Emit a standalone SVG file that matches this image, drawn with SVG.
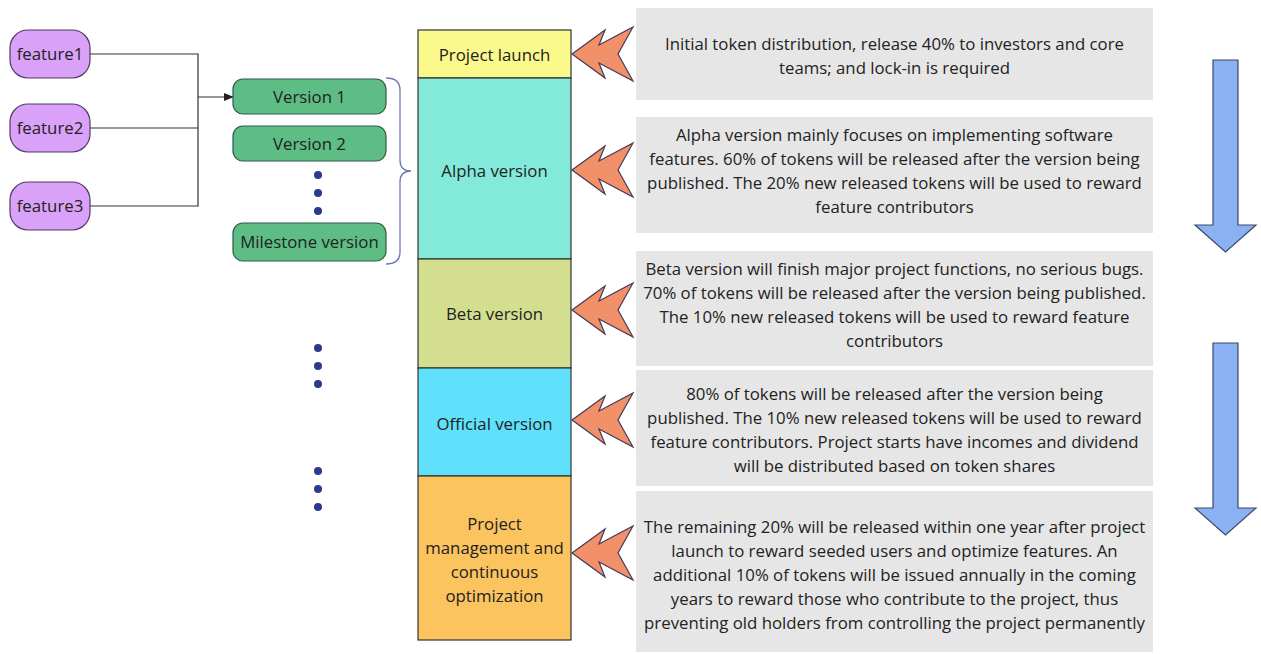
<svg xmlns="http://www.w3.org/2000/svg" width="1261" height="654" viewBox="0 0 1261 654">
<defs>
<style>
text{font-family:"Open Sans","Noto Sans","DejaVu Sans",sans-serif;font-size:16.8px;fill:#222;text-anchor:middle}
.feat{fill:#d9a1f8;stroke:#4e3d63;stroke-width:1.2}
.ver{fill:#5dbd84;stroke:#2f5a44;stroke-width:1.2}
.col{stroke:#333;stroke-width:1.2}
.box{fill:#e6e6e6}
.chev{fill:#f29069;stroke:#433a5a;stroke-width:1.2;stroke-linejoin:miter}
.blue{fill:#8ab1f2;stroke:#3d4868;stroke-width:1.2}
.dot{fill:#2a3a8e}
.conn{fill:none;stroke:#333;stroke-width:1.2}
</style>
<marker id="ah" markerWidth="10" markerHeight="8" refX="9" refY="4" orient="auto" markerUnits="userSpaceOnUse">
<path d="M0,0 L10,4 L0,8 z" fill="#222"/>
</marker>
<path id="chv" d="M0,0 L33,-24 L27,-9 L61,-27 L46,0 L61,27 L27,9 L33,24 Z"/>
</defs>
<rect width="1261" height="654" fill="#fff"/>

<g id="connectors">
<path class="conn" d="M90,54 H198 V206 H90 M90,128 H198"/>
<path class="conn" d="M198,97 H233" stroke-width="1.5" marker-end="url(#ah)"/>
<path d="M386,78 Q400,78 400,90 V160 Q400,171 411,171 Q400,171 400,182 V252 Q400,264 386,264" fill="none" stroke="#6f77b5" stroke-width="1.3"/>
</g>

<g id="feature1"><rect class="feat" x="10" y="30" width="80" height="48" rx="18"/><text x="50" y="60">feature1</text></g>
<g id="feature2"><rect class="feat" x="10" y="104" width="80" height="48" rx="18"/><text x="50" y="134">feature2</text></g>
<g id="feature3"><rect class="feat" x="10" y="182" width="80" height="48" rx="18"/><text x="50" y="212">feature3</text></g>

<g id="version1"><rect class="ver" x="233" y="79" width="153" height="35" rx="10"/><text x="309.5" y="103">Version 1</text></g>
<g id="version2"><rect class="ver" x="233" y="126" width="153" height="35" rx="10"/><text x="309.5" y="150">Version 2</text></g>
<g id="milestone"><rect class="ver" x="233" y="223" width="153" height="38" rx="10"/><text x="309.5" y="248">Milestone version</text></g>

<g id="dots">
<circle class="dot" cx="318" cy="175" r="4"/><circle class="dot" cx="318" cy="193" r="4"/><circle class="dot" cx="318" cy="211" r="4"/>
<circle class="dot" cx="318" cy="348" r="4"/><circle class="dot" cx="318" cy="366" r="4"/><circle class="dot" cx="318" cy="384" r="4"/>
<circle class="dot" cx="318" cy="471" r="4"/><circle class="dot" cx="318" cy="489" r="4"/><circle class="dot" cx="318" cy="507" r="4"/>
</g>

<g id="launch"><rect class="col" x="418" y="30" width="153" height="48" fill="#fbf98b"/><text x="494.5" y="61">Project launch</text></g>
<g id="alpha"><rect class="col" x="418" y="78" width="153" height="181" fill="#83eadb"/><text x="494.5" y="177">Alpha version</text></g>
<g id="beta"><rect class="col" x="418" y="259" width="153" height="109" fill="#d3df8e"/><text x="494.5" y="320">Beta version</text></g>
<g id="official"><rect class="col" x="418" y="368" width="153" height="108" fill="#5fe1fb"/><text x="494.5" y="430">Official version</text></g>
<g id="optimization"><rect class="col" x="418" y="476" width="153" height="164" fill="#fcc45e"/>
<text x="494.5" y="530">Project</text><text x="494.5" y="554">management and</text><text x="494.5" y="578">continuous</text><text x="494.5" y="602">optimization</text></g>

<g id="chevrons">
<use href="#chv" class="chev" transform="translate(572,54)"/>
<use href="#chv" class="chev" transform="translate(572,170)"/>
<use href="#chv" class="chev" transform="translate(572,310)"/>
<use href="#chv" class="chev" transform="translate(572,420)"/>
<use href="#chv" class="chev" transform="translate(572,553)"/>
</g>

<g id="desc1"><rect class="box" x="636" y="8" width="517" height="92"/>
<text x="894.5" y="50">Initial token distribution, release 40% to investors and core</text>
<text x="894.5" y="74">teams; and lock-in is required</text></g>
<g id="desc2"><rect class="box" x="636" y="117" width="517" height="116"/>
<text x="894.5" y="141">Alpha version mainly focuses on implementing software</text>
<text x="894.5" y="165">features. 60% of tokens will be released after the version being</text>
<text x="894.5" y="189">published. The 20% new released tokens will be used to reward</text>
<text x="894.5" y="213">feature contributors</text></g>
<g id="desc3"><rect class="box" x="636" y="251" width="517" height="115"/>
<text x="894.5" y="275">Beta version will finish major project functions, no serious bugs.</text>
<text x="894.5" y="299">70% of tokens will be released after the version being published.</text>
<text x="894.5" y="323">The 10% new released tokens will be used to reward feature</text>
<text x="894.5" y="347">contributors</text></g>
<g id="desc4"><rect class="box" x="636" y="370" width="517" height="116"/>
<text x="894.5" y="400">80% of tokens will be released after the version being</text>
<text x="894.5" y="424">published. The 10% new released tokens will be used to reward</text>
<text x="894.5" y="448">feature contributors. Project starts have incomes and dividend</text>
<text x="894.5" y="472">will be distributed based on token shares</text></g>
<g id="desc5"><rect class="box" x="636" y="491" width="517" height="161"/>
<text x="894.5" y="533">The remaining 20% will be released within one year after project</text>
<text x="894.5" y="557">launch to reward seeded users and optimize features. An</text>
<text x="894.5" y="581">additional 10% of tokens will be issued annually in the coming</text>
<text x="894.5" y="605">years to reward those who contribute to the project, thus</text>
<text x="894.5" y="629">preventing old holders from controlling the project permanently</text></g>

<g id="flow-arrows">
<path class="blue" d="M1213,60 H1238 V225 H1256 L1225.5,252 L1195,225 H1213 Z"/>
<path class="blue" d="M1213,343 H1238 V508 H1256 L1225.5,535 L1195,508 H1213 Z"/>
</g>
</svg>
